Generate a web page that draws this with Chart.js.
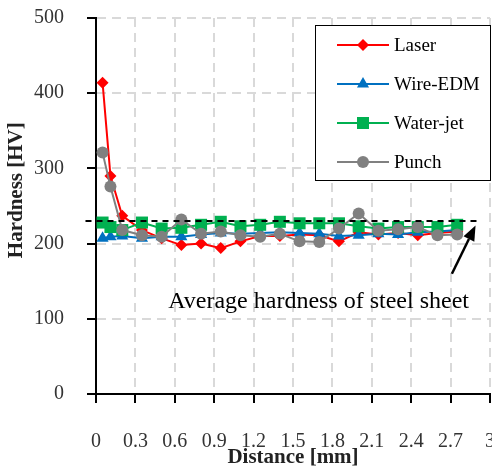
<!DOCTYPE html>
<html>
<head>
<meta charset="utf-8">
<script src="https://cdn.jsdelivr.net/npm/chart.js@4.4.0/dist/chart.umd.min.js"></script>
<style>
  html, body { margin: 0; padding: 0; background: #fff; overflow: hidden; }
  #wrap { width: 500px; height: 474px; }
</style>
</head>
<body>
<div id="wrap"><canvas id="hardChart" width="500" height="474"></canvas></div>
<script>
// distance positions of the indents (mm)
var distance = [0.05, 0.11, 0.2, 0.35, 0.5, 0.65, 0.8, 0.95, 1.1, 1.25, 1.4, 1.55, 1.7, 1.85, 2.0, 2.15, 2.3, 2.45, 2.6, 2.75];

var laser    = [414, 290, 237, 218, 207, 198, 200, 194, 203, 210, 210, 212, 211, 203, 215, 212, 214, 211, 214, 216];
var wireEdm  = [207, 209, 210, 207, 209, 209, 212, 214, 213, 214, 215, 214, 213, 210, 211, 213, 212, 215, 216, 218];
var waterJet = [228, 222, 218, 228, 220, 221, 225, 229, 223, 225, 229, 227, 227, 227, 223, 220, 222, 222, 222, 225];
var punch    = [321, 276, 218, 211, 209, 232, 213, 216, 211, 209, 213, 203, 202, 220, 240, 217, 219, 222, 211, 212];

var avgX = [-0.08, 2.93];
var avgY = [230, 230];

var xTicks = [0, 0.3, 0.6, 0.9, 1.2, 1.5, 1.8, 2.1, 2.4, 2.7, 3];
var xTickLabels = ['0', '0.3', '0.6', '0.9', '1.2', '1.5', '1.8', '2.1', '2.4', '2.7', '3'];
var yTicks = [0, 100, 200, 300, 400, 500];

var seriesNames = ['Laser', 'Wire-EDM', 'Water-jet', 'Punch'];
var seriesColors = ['#ff0000', '#0070c0', '#00b050', '#808080'];
var seriesMarkers = ['rectRot', 'triangle', 'rect', 'circle'];
var markerSizes = [6, 7, 8.5, 6];

var annotationText = 'Average hardness of steel sheet';
var arrowFrom = [2.71, 160];
var arrowTo = [2.89, 224];

function pairs(xs, ys) {
    return xs.map(function(x, i) { return { x: x, y: ys[i] }; });
}

var serif = "'Liberation Serif', 'Times New Roman', serif";

function makeSeries(i, values) {
    return {
        label: seriesNames[i],
        data: pairs(distance, values),
        borderColor: seriesColors[i],
        backgroundColor: seriesColors[i],
        borderWidth: 2,
        pointStyle: seriesMarkers[i],
        pointRadius: markerSizes[i],
        pointBorderWidth: 0,
        pointBackgroundColor: seriesColors[i],
        order: 4 - i,
        tension: 0
    };
}

// legend box + annotation drawn on top
var extras = {
    id: 'extras',
    afterDraw: function(chart) {
        var ctx = chart.ctx;
        var xs = chart.scales.x, ys = chart.scales.y;

        // annotation text
        ctx.save();
        ctx.fillStyle = '#000';
        ctx.font = '24px ' + serif;
        ctx.textBaseline = 'alphabetic';
        ctx.textAlign = 'left';
        ctx.fillText(annotationText, xs.getPixelForValue(0.55), ys.getPixelForValue(114));

        // arrow
        var x1 = xs.getPixelForValue(arrowFrom[0]), y1 = ys.getPixelForValue(arrowFrom[1]);
        var x2 = xs.getPixelForValue(arrowTo[0]), y2 = ys.getPixelForValue(arrowTo[1]);
        var ang = Math.atan2(y2 - y1, x2 - x1);
        var hl = 15, hw = 6;
        ctx.strokeStyle = '#000';
        ctx.lineWidth = 2.5;
        ctx.beginPath();
        ctx.moveTo(x1, y1);
        ctx.lineTo(x2 - hl * Math.cos(ang), y2 - hl * Math.sin(ang));
        ctx.stroke();
        ctx.beginPath();
        ctx.moveTo(x2, y2);
        ctx.lineTo(x2 - hl * Math.cos(ang) + hw * Math.sin(ang), y2 - hl * Math.sin(ang) - hw * Math.cos(ang));
        ctx.lineTo(x2 - hl * Math.cos(ang) - hw * Math.sin(ang), y2 - hl * Math.sin(ang) + hw * Math.cos(ang));
        ctx.closePath();
        ctx.fillStyle = '#000';
        ctx.fill();

        // legend
        var bx = 315.5, by = 25.5, bw = 175, bh = 155;
        ctx.fillStyle = '#fff';
        ctx.fillRect(bx, by, bw, bh);
        ctx.strokeStyle = '#000';
        ctx.lineWidth = 1;
        ctx.strokeRect(bx, by, bw, bh);
        ctx.font = '19px ' + serif;
        ctx.textBaseline = 'middle';
        var rowY = [45, 84, 123, 162];
        for (var i = 0; i < seriesNames.length; i++) {
            var yy = rowY[i];
            ctx.strokeStyle = seriesColors[i];
            ctx.lineWidth = 2;
            ctx.beginPath();
            ctx.moveTo(337, yy);
            ctx.lineTo(389, yy);
            ctx.stroke();
            ctx.fillStyle = seriesColors[i];
            drawMarker(ctx, seriesMarkers[i], 363, yy, markerSizes[i]);
            ctx.fillStyle = '#000';
            ctx.fillText(seriesNames[i], 394, yy + 1);
        }
        ctx.restore();
    }
};

function drawMarker(ctx, kind, x, y, r) {
    ctx.beginPath();
    if (kind === 'circle') {
        ctx.arc(x, y, r, 0, Math.PI * 2);
    } else if (kind === 'rect') {
        var s = r * Math.SQRT1_2;
        ctx.rect(x - s, y - s, 2 * s, 2 * s);
    } else if (kind === 'rectRot') {
        ctx.moveTo(x, y - r); ctx.lineTo(x + r, y); ctx.lineTo(x, y + r); ctx.lineTo(x - r, y);
    } else if (kind === 'triangle') {
        ctx.moveTo(x, y - r);
        ctx.lineTo(x + r * 0.866, y + r * 0.5);
        ctx.lineTo(x - r * 0.866, y + r * 0.5);
    }
    ctx.closePath();
    ctx.fill();
}

var ctx = document.getElementById('hardChart').getContext('2d');
var hardChart = new Chart(ctx, {
    type: 'line',
    data: {
        datasets: [
            makeSeries(0, laser),
            makeSeries(1, wireEdm),
            makeSeries(2, waterJet),
            makeSeries(3, punch),
            {
                label: 'Average',
                data: pairs(avgX, avgY),
                borderColor: '#000',
                borderWidth: 2,
                borderDash: [6, 5],
                pointRadius: 0,
                clip: { left: 20, top: 0, right: 0, bottom: 0 },
                order: 0
            }
        ]
    },
    options: {
        responsive: false,
        animation: false,
        layout: { padding: { left: 0, right: 10, top: 18, bottom: 0 } },
        plugins: {
            legend: { display: false },
            tooltip: { enabled: false }
        },
        scales: {
            x: {
                type: 'linear',
                min: 0,
                max: 3,
                afterFit: function(scale) {
                    scale.height = 80;
                    scale.paddingLeft = 0;
                    scale.paddingRight = 0;
                },
                afterBuildTicks: function(scale) {
                    scale.ticks = xTicks.map(function(v) { return { value: v }; });
                },
                ticks: {
                    autoSkip: false,
                    maxRotation: 0,
                    padding: 27,
                    color: '#333',
                    font: { family: serif, size: 20 },
                    callback: function(value, index) { return xTickLabels[index]; }
                },
                grid: {
                    color: '#d9d9d9',
                    lineWidth: 2,
                    tickColor: '#000',
                    tickWidth: 2,
                    tickLength: 9,
                    tickBorderDash: []
                },
                border: { color: '#000', width: 2, dash: [9, 6] },
                title: {
                    display: true,
                    text: 'Distance [mm]',
                    color: '#222',
                    font: { family: serif, size: 21, weight: 'bold' },
                    padding: { top: 0, bottom: 4 }
                }
            },
            y: {
                min: 0,
                max: 500,
                afterFit: function(scale) {
                    scale.width = 96;
                    scale.paddingTop = 0;
                    scale.paddingBottom = 0;
                },
                afterBuildTicks: function(scale) {
                    scale.ticks = yTicks.map(function(v) { return { value: v }; });
                },
                ticks: {
                    padding: 23,
                    color: '#333',
                    font: { family: serif, size: 20 }
                },
                grid: {
                    color: '#d9d9d9',
                    lineWidth: 2,
                    tickColor: '#000',
                    tickWidth: 2,
                    tickLength: 9,
                    tickBorderDash: []
                },
                border: { color: '#000', width: 2, dash: [9, 6] },
                title: {
                    display: true,
                    text: '      Hardness [HV]',
                    color: '#222',
                    font: { family: serif, size: 21, weight: 'bold' },
                    padding: { top: 4, bottom: 0 }
                }
            }
        }
    },
    plugins: [extras]
});
</script>
</body>
</html>
